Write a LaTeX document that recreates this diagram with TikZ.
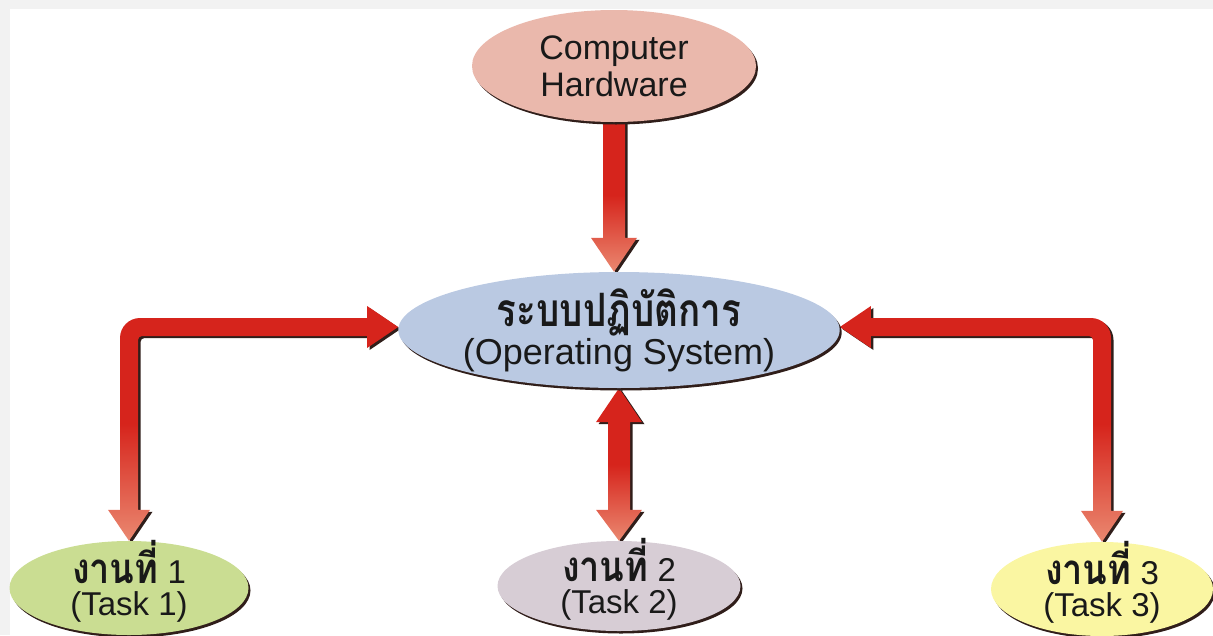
\documentclass[tikz,border=0pt]{standalone}
\usepackage{fontspec}
\setmainfont{Liberation Sans}
\newfontfamily\thaifont[Script=Thai]{Loma}
\usetikzlibrary{shapes.geometric,shadows,calc,backgrounds}

% Loma runs wide, so the Thai words are set large and squeezed sideways
\newcommand\thaiword[3]{\scalebox{#2}[1]{\fontsize{#1}{#1}\selectfont\thaifont\bfseries #3}}
% two lines of a task label, lifted a little inside the oval
\newcommand\tasklabel[1]{\thaiword{42}{0.86}{งานที่} #1\\[-2pt](Task #1)\rule[-20pt]{0pt}{0pt}}

\definecolor{arrowred}{RGB}{214,36,28}
\definecolor{arrowpink}{RGB}{234,136,112}
\definecolor{shadowbrown}{RGB}{48,30,26}
\definecolor{hwpink}{RGB}{234,184,172}
\definecolor{osblue}{RGB}{186,201,226}
\definecolor{taskgreen}{RGB}{202,221,146}
\definecolor{taskgrey}{RGB}{215,205,213}
\definecolor{taskyellow}{RGB}{250,246,162}

% negative inner ysep keeps the ellipse from growing round its two text lines,
% so minimum width/height really fix the size of each oval
\tikzset{
  oval/.style={ellipse, inner xsep=0pt, inner ysep=-14pt, align=center, text=black!90,
    drop shadow={shadow xshift=2pt, shadow yshift=-2.5pt, opacity=1, fill=shadowbrown}},
  task/.style={oval, minimum height=94pt, inner ysep=-22pt, font=\fontsize{33}{34}\selectfont},
  blockarrow/.style={top color=arrowred, bottom color=arrowpink, middle color=arrowred,
    drop shadow={shadow xshift=2.5pt, shadow yshift=-2pt, opacity=1, fill=shadowbrown}},
}

\begin{document}
\begin{tikzpicture}[x=1pt,y=-1pt]
	\useasboundingbox (0,0) rectangle (1213,635);

	% the five ovals: hardware on top, the OS in the middle, three tasks below
	\node[oval, fill=hwpink, minimum width=284pt, minimum height=112pt,
	      font=\fontsize{34}{37}\selectfont] (hw) at (614,66) {Computer\\Hardware};
	\node[oval, fill=osblue, minimum width=418pt, minimum height=116pt,
	      font=\fontsize{36}{38}\selectfont] (os) at (619,330)
	      {\thaiword{46}{0.8}{ระบบปฏิบัติการ}\\(Operating System)};
	\node[task, fill=taskgreen, minimum width=239pt] (t1) at (129,588) {\tasklabel{1}};
	\node[task, fill=taskgrey, minimum width=243pt, minimum height=90pt] (t2) at (619,586)
	      {\tasklabel{2}};
	\node[task, fill=taskyellow, minimum width=222pt] (t3) at (1102,589) {\tasklabel{3}};

	% tips of the two side arrows and the corners where they bend
	\coordinate (ltip) at ($(os.west)+(0,-3)$);
	\coordinate (rtip) at ($(os.east)+(0,-3)$);
	\coordinate (lc) at (t1.north |- ltip);
	\coordinate (rc) at (t3.north |- rtip);
	\coordinate (hwtip) at (hw.south |- os.north);

	\begin{pgfonlayer}{background}
		% faint border along the top and left edge
		\fill[black!5] (0,0) rectangle (1213,9);
		\fill[black!5] (0,0) rectangle (10,635);

		% The arrows are filled outlines, not strokes, so that they can be
		% shaded from red into pink towards the lower head. They sit on the
		% background layer and start under the ovals.
		\path[blockarrow] ($(hw.south)+(-11,-4)$) -- ($(hwtip)+(-11,-34)$) -- ++(-12,0)
			-- (hwtip) -- ++(23,-34) -- ++(-12,0) -- ($(hw.south)+(11,-4)$) -- cycle;

		\path[blockarrow] (os.south) -- ++(23,34) -- ++(-12,0) -- ($(t2.north)+(11,-31)$)
			-- ++(12,0) -- (t2.north) -- ++(-23,-31) -- ++(12,0)
			-- ($(os.south)+(-11,34)$) -- ++(-12,0) -- cycle;

		\path[blockarrow] (ltip) -- ++(-31,21) -- ++(0,-12) -- ($(lc)+(13,9)$)
			arc[start angle=270, end angle=180, radius=4]
			-- ($(t1.north)+(9,-31)$) -- ++(12,0) -- (t1.north) -- ++(-21,-31) -- ++(12,0)
			-- ($(lc)+(-9,11)$) arc[start angle=180, end angle=270, radius=20]
			-- ($(ltip)+(-31,-9)$) -- ++(0,-12) -- cycle;

		\path[blockarrow] (rtip) -- ++(31,21) -- ++(0,-12) -- ($(rc)+(-13,9)$)
			arc[start angle=270, end angle=360, radius=4]
			-- ($(t3.north)+(-9,-31)$) -- ++(-12,0) -- (t3.north) -- ++(21,-31) -- ++(-12,0)
			-- ($(rc)+(9,11)$) arc[start angle=0, end angle=-90, radius=20]
			-- ($(rtip)+(31,-9)$) -- ++(0,-12) -- cycle;
	\end{pgfonlayer}
\end{tikzpicture}
\end{document}
